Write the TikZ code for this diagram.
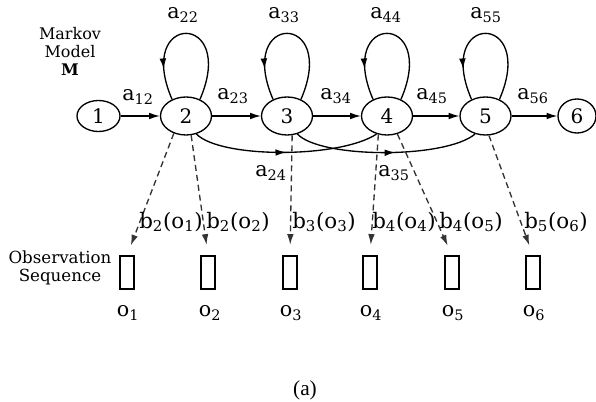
\documentclass[tikz,border=0pt]{standalone}
\usepackage{fontspec}
\setmainfont{DejaVu Serif}
\newfontfamily\captionfont{Liberation Serif}
\usetikzlibrary{arrows.meta,shapes.geometric,decorations.markings}

\tikzset{every picture/.style={line width=1pt},
	state/.style={draw, ellipse, inner sep=0pt, minimum width=38.25pt, minimum height=28.5pt, font=\fontsize{15}{15}\selectfont},
	obsbox/.style={draw, rectangle, inner sep=0pt, minimum width=10.5pt, minimum height=24.75pt, line width=0.9pt},
	lbl/.style={inner sep=0pt, font=\fontsize{15.5}{15.5}\selectfont},
	arr/.style={-{Latex[length=8pt,width=5pt]}},
	midarrow/.style={postaction={decorate}, decoration={markings, mark=at position #1 with {\arrow{Latex[length=8pt,width=5pt]}}}},
	obsarrow/.style={draw=black!80, dash pattern=on 4.5pt off 3pt, -{Latex[length=8pt,width=5pt]}, shorten >=8pt}
}

\begin{document}
\begin{tikzpicture}[x=0.75pt,y=0.75pt,yscale=-1]
	\useasboundingbox (0,0) rectangle (596,402);

	% States
	\node [state, minimum width=32.25pt, minimum height=23.25pt] (s1) at (98.5,116) {1};
	\node [state] (s2) at (186,116) {2};
	\node [state] (s3) at (287,116) {3};
	\node [state] (s4) at (387,116) {4};
	\node [state] (s5) at (485.5,116) {5};
	\node [state, minimum width=28.5pt, minimum height=25.5pt] (s6) at (577,116) {6};

	% Observation boxes
	\node [obsbox] (o1) at (127,272.5) {};
	\node [obsbox] (o2) at (208,272.5) {};
	\node [obsbox] (o3) at (290,272.5) {};
	\node [obsbox] (o4) at (370,272.5) {};
	\node [obsbox] (o5) at (452,272.5) {};
	\node [obsbox] (o6) at (533,272.5) {};

	% Forward transitions
	\draw [arr] (s1) -- (s2);
	\draw [arr] (s2) -- (s3);
	\draw [arr] (s3) -- (s4);
	\draw [arr] (s4) -- (s5);
	\draw [arr] (s5) -- (s6);

	% Self loops
	\draw [midarrow=0.8] (s2.50) .. controls +(38,-88) and +(-38,-88) .. (s2.130);
	\draw [midarrow=0.8] (s3.50) .. controls +(38,-88) and +(-38,-88) .. (s3.130);
	\draw [midarrow=0.8] (s4.50) .. controls +(38,-88) and +(-38,-88) .. (s4.130);
	\draw [midarrow=0.8] (s5.50) .. controls +(38,-88) and +(-38,-88) .. (s5.130);

	% Skip transitions
	\draw [midarrow=0.5] (s2.-60) .. controls +(24,24.5) and +(-37,24.5) .. (s4.-120);
	\draw [midarrow=0.55] (s3.-60) .. controls +(23,24.5) and +(-30,25) .. (s5.-120);

	% Observation probabilities
	\draw [obsarrow] (s2.-125) -- (o1.north);
	\draw [obsarrow] (s2.-75) -- (o2.north);
	\draw [obsarrow] (s3.-75) -- (o3.north);
	\draw [obsarrow] (s4.-115) -- (o4.north);
	\draw [obsarrow] (s4.-60) -- (o5.north);
	\draw [obsarrow] (s5.-80) -- (o6.north);

	% Text Node
	\node [lbl] (l12) at (138,97) {a\textsubscript{12}};
	\node [lbl] (l23) at (233,96) {a\textsubscript{23}};
	\node [lbl] (l34) at (336,96) {a\textsubscript{34}};
	\node [lbl] (l45) at (432,96) {a\textsubscript{45}};
	\node [lbl] (l56) at (533,96) {a\textsubscript{56}};
	% Text Node
	\node [lbl] (l22) at (183,15) {a\textsubscript{22}};
	\node [lbl] (l33) at (284,15) {a\textsubscript{33}};
	\node [lbl] (l44) at (386,15) {a\textsubscript{44}};
	\node [lbl] (l55) at (486,15) {a\textsubscript{55}};
	% Text Node
	\node [lbl] (l24) at (271,173) {a\textsubscript{24}};
	\node [lbl] (l35) at (394,173) {a\textsubscript{35}};
	% Text Node
	\node [lbl, font=\fontsize{16}{16}\selectfont] (b21) at (171,222) {b\textsubscript{2}(o\textsubscript{1})};
	\node [lbl, font=\fontsize{16}{16}\selectfont] (b22) at (238,222) {b\textsubscript{2}(o\textsubscript{2})};
	\node [lbl, font=\fontsize{16}{16}\selectfont] (b33) at (324,222) {b\textsubscript{3}(o\textsubscript{3})};
	\node [lbl, font=\fontsize{16}{16}\selectfont] (b44) at (404,222) {b\textsubscript{4}(o\textsubscript{4})};
	\node [lbl, font=\fontsize{16}{16}\selectfont] (b45) at (471,222) {b\textsubscript{4}(o\textsubscript{5})};
	\node [lbl, font=\fontsize{16}{16}\selectfont] (b56) at (556,222) {b\textsubscript{5}(o\textsubscript{6})};
	% Text Node
	\node [lbl] (t1) at (128,313) {o\textsubscript{1}};
	\node [lbl] (t2) at (210,313) {o\textsubscript{2}};
	\node [lbl] (t3) at (291,313) {o\textsubscript{3}};
	\node [lbl] (t4) at (371,313) {o\textsubscript{4}};
	\node [lbl] (t5) at (453,313) {o\textsubscript{5}};
	\node [lbl] (t6) at (534,313) {o\textsubscript{6}};
	% Text Node
	\node [align=center, inner sep=0pt, font=\fontsize{12}{13.5}\selectfont] (model) at (70,51) {Markov\\Model\\\textbf{M}};
	% Text Node
	\node [align=center, inner sep=0pt, font=\fontsize{12.5}{14}\selectfont] (seq) at (60,268) {Observation\\Sequence};
	% Text Node
	\node [inner sep=0pt, font=\captionfont\fontsize{16}{16}\selectfont] (cap) at (305,390) {(a)};

\end{tikzpicture}
\end{document}
